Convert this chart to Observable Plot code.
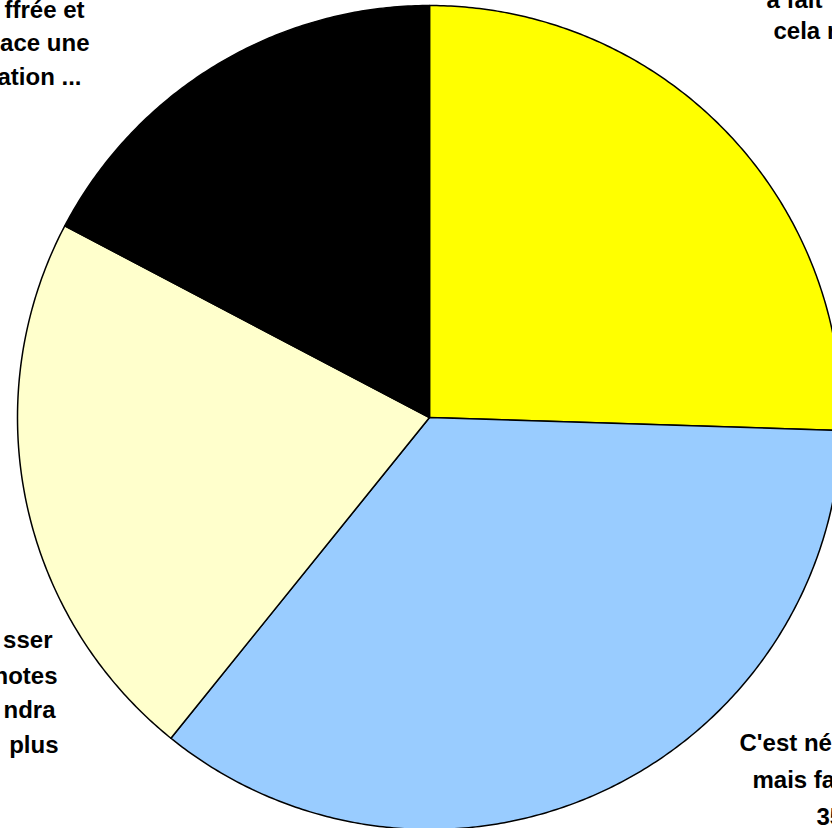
<!DOCTYPE html>
<html><head><meta charset="utf-8">
<script src="https://cdn.jsdelivr.net/npm/d3@7"></script>
<script src="https://cdn.jsdelivr.net/npm/@observablehq/plot@0.6"></script>
<style>
html,body{margin:0;padding:0;overflow:hidden;background:#fff;width:832px;height:828px}
#chart svg{max-width:none;display:block}
</style>
</head><body><div id="chart"></div>
<script>
// Slices, clockwise from 12 o'clock
const categories = ["a fait … cela r…", "C'est né… mais fa… 35…", "…sser …notes …ndra … plus", "…ffrée et …ace une …ation ..."];
const values = [25.5, 35.3, 21.9, 17.3];
const colors = ["#FFFF00", "#99CCFF", "#FFFFCC", "#000000"];

// Visible label lines (the labels are cut by the picture's edges)
const labelTopRight = ["a fait", "cela r"];
const labelBottomRight = ["C'est né", "mais fa", "35"];
const labelBottomLeft = ["sser", "notes", "ndra", "plus"];
const labelTopLeft = ["ffrée et", "ace une", "ation ..."];

const R = 412;       // radius in domain units (1 unit = 1 px)
const CX = 429, CY = 417; // pie centre in page pixels

const arcs = d3.pie().sort(null).value(d => d)(values);
const slices = arcs.map((a, i) => {
  const ring = [[0, 0]];
  const n = Math.max(8, Math.ceil((a.endAngle - a.startAngle) / (Math.PI / 360)));
  for (let k = 0; k <= n; k++) {
    const t = a.startAngle + (a.endAngle - a.startAngle) * k / n;
    ring.push([R * Math.sin(t), R * Math.cos(t)]);
  }
  ring.push([0, 0]);
  return {type: "Feature", properties: {category: categories[i]}, geometry: {type: "Polygon", coordinates: [ring]}};
});
const disk = {type: "Polygon", coordinates: [d3.range(0, 361).map(k => {
  const t = k * Math.PI / 180; return [R * Math.sin(t), R * Math.cos(t)];
})]};

function label(lines, xs, ys, anchor) {
  return Plot.text(lines, {
    x: (d, i) => xs[i] - CX,
    y: (d, i) => CY - ys[i],
    text: d => d,
    textAnchor: anchor,
    lineAnchor: "bottom",
    fontSize: 24,
    fontWeight: "bold",
    fill: "#000"
  });
}

const chart = Plot.plot({
  width: 850,
  height: 840,
  marginLeft: CX - R,
  marginTop: CY - R,
  marginRight: 850 - CX - R,
  marginBottom: 840 - CY - R,
  style: {fontFamily: "'Liberation Sans', Arial, sans-serif", background: "#fff", overflow: "visible"},
  projection: {type: "reflect-y", domain: disk},
  color: {domain: categories, range: colors},
  marks: [
    Plot.geo(slices, {fill: d => d.properties.category, stroke: "#000", strokeWidth: 1.5, strokeLinejoin: "round"}),
    label(labelTopLeft, [84, 89, 81], [17, 50, 84], "end"),
    label(labelTopRight, [766, 773], [7, 38], "start"),
    label(labelBottomLeft, [52, 57, 55, 58], [647, 683, 717, 752], "end"),
    label(labelBottomRight, [739, 752, 816], [750, 787, 824], "start")
  ]
});
document.getElementById("chart").appendChild(chart);
</script>
</body></html>
